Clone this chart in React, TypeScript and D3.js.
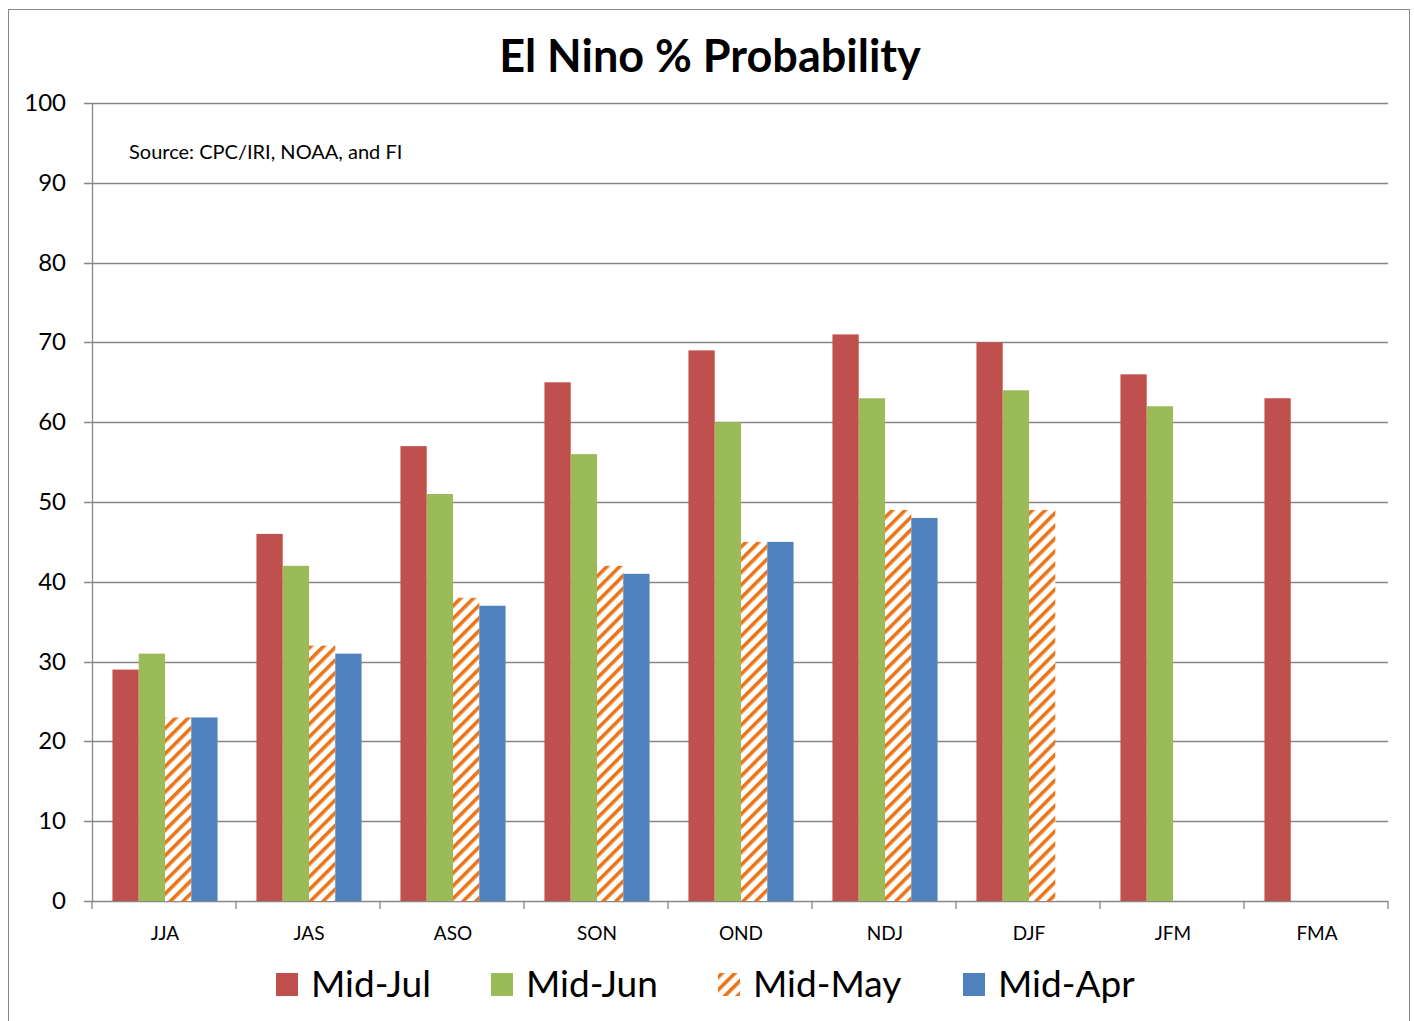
import React from 'react';
import * as d3 from 'd3';

const categories = ['JJA', 'JAS', 'ASO', 'SON', 'OND', 'NDJ', 'DJF', 'JFM', 'FMA'];
const seriesNames = ['Mid-Jul', 'Mid-Jun', 'Mid-May', 'Mid-Apr'];
const midJul = [29, 46, 57, 65, 69, 71, 70, 66, 63];
const midJun = [31, 42, 51, 56, 60, 63, 64, 62, null];
const midMay = [23, 32, 38, 42, 45, 49, 49, null, null];
const midApr = [23, 31, 37, 41, 45, 48, null, null, null];
const yTicks = [0, 10, 20, 30, 40, 50, 60, 70, 80, 90, 100];

const seriesValues = [midJul, midJun, midMay, midApr];
const colors = ['#C0504D', '#9BBB59', 'url(#hatch)', '#4F81BD'];
const font = 'Lato, "Open Sans", sans-serif';

export default function App() {
  const W = 1414;
  const H = 1021;
  const left = 92, right = 1388, top = 103, bottom = 901;

  const x = d3.scaleBand<string>().domain(categories).range([left + 1, right + 1]).paddingInner(0.27).paddingOuter(0.135);
  const xs = d3.scaleBand<string>().domain(seriesNames).range([0, x.bandwidth()]);
  const y = d3.scaleLinear().domain([0, 100]).range([bottom, top]);
  const step = (right - left) / categories.length;

  const legendX = [276, 491, 718, 963];

  return (
    <svg width={W} height={H} style={{ position: 'absolute', left: 0, top: 0 }}>
      <defs>
        <pattern id="hatch" patternUnits="userSpaceOnUse" width="9" height="9" patternTransform="rotate(45)">
          <rect width="9" height="9" fill="#fff" />
          <rect x="0" y="0" width="3.6" height="9" fill="#EC7418" />
        </pattern>
      </defs>
      <rect x={0} y={0} width={W} height={H} fill="#fff" />
      <rect x={8.5} y={9.5} width={1401} height={1020} fill="#fff" stroke="#888" />
      <text x={710} y={72} textAnchor="middle" fontFamily={font} fontWeight="bold" fontSize={45} fill="#000">
        El Nino % Probability
      </text>
      {yTicks.map(t => (
        <g key={t}>
          <line x1={left - 8} x2={right} y1={Math.round(y(t)) + 0.5} y2={Math.round(y(t)) + 0.5} stroke="#878787" strokeWidth={1.3} />
          <text x={66} y={y(t) + 8} textAnchor="end" fontFamily={font} fontSize={24} fill="#000">{t}</text>
        </g>
      ))}
      <line x1={left + 0.5} x2={left + 0.5} y1={top} y2={bottom} stroke="#878787" strokeWidth={1.3} />
      {d3.range(categories.length + 1).map(i => (
        <line key={i} x1={left + i * step} x2={left + i * step} y1={bottom} y2={bottom + 8} stroke="#878787" strokeWidth={1.3} />
      ))}
      <text x={129} y={159} fontFamily={font} fontSize={20} fill="#000">Source: CPC/IRI, NOAA, and FI</text>
      {seriesValues.map((vals, si) =>
        vals.map((v, ci) =>
          v == null ? null : (
            <rect
              key={`${si}-${ci}`}
              x={(x(categories[ci]) ?? 0) + (xs(seriesNames[si]) ?? 0)}
              y={y(v)}
              width={xs.bandwidth()}
              height={y(0) - y(v)}
              fill={colors[si]}
            />
          )
        )
      )}
      {categories.map(c => (
        <text key={c} x={(x(c) ?? 0) + x.bandwidth() / 2} y={940} textAnchor="middle" fontFamily={font} fontSize={19} fill="#000">{c}</text>
      ))}
      {seriesNames.map((s, i) => (
        <g key={s}>
          <rect x={legendX[i]} y={973} width={22} height={23} fill={colors[i]} />
          <text x={legendX[i] + 35} y={997} fontFamily={font} fontSize={37} fill="#000">{s}</text>
        </g>
      ))}
    </svg>
  );
}
